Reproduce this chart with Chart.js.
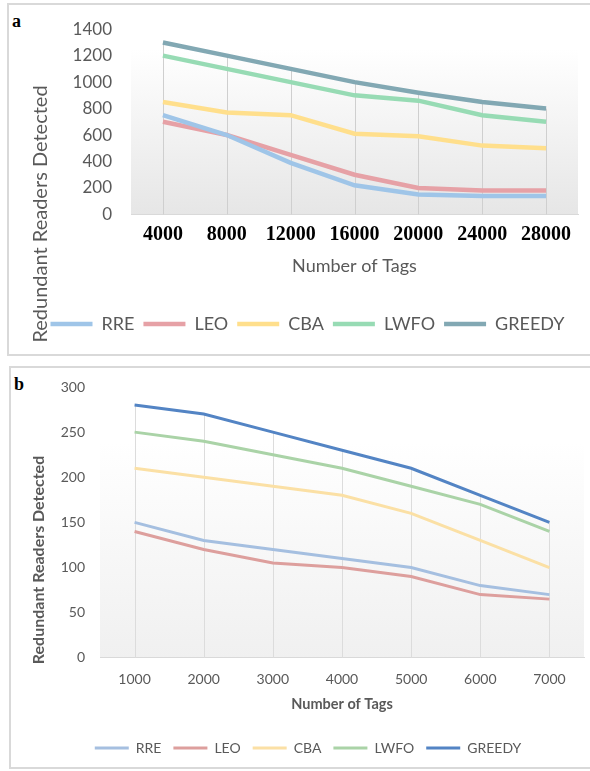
<!DOCTYPE html>
<html>
<head>
<meta charset="utf-8">
<script src="https://cdn.jsdelivr.net/npm/chart.js@4.4.0/dist/chart.umd.min.js"></script>
<style>
  body { margin: 0; background: #fff; width: 590px; height: 771px; position: relative; overflow: hidden; }
  .panel { position: absolute; border: 2px solid #d9d9d9; box-sizing: border-box; }
  #panelA { left: 7px; top: 3px; width: 600px; height: 353px; }
  #panelB { left: 9px; top: 366px; width: 600px; height: 403px; }
  .tag { position: absolute; font: bold 18px "Liberation Serif", serif; color: #000; }
  canvas { position: absolute; left: 0; }
</style>
</head>
<body>
<div class="panel" id="panelA"></div>
<div class="panel" id="panelB"></div>
<span class="tag" style="left:12px; top:11px;">a</span>
<span class="tag" style="left:14px; top:374px;">b</span>
<canvas id="chartA" width="590" height="355" style="top:0"></canvas>
<canvas id="chartB" width="590" height="411" style="top:360px"></canvas>
<script>
// series names
const seriesNames = ['RRE', 'LEO', 'CBA', 'LWFO', 'GREEDY'];

// panel a
const tagsA = ['4000', '8000', '12000', '16000', '20000', '24000', '28000'];
const rreA = [750, 600, 390, 220, 150, 140, 140];
const leoA = [700, 600, 450, 300, 200, 180, 180];
const cbaA = [850, 770, 750, 610, 590, 520, 500];
const lwfoA = [1200, 1100, 1000, 900, 860, 750, 700];
const greedyA = [1300, 1200, 1100, 1000, 920, 850, 800];

// panel b
const tagsB = ['1000', '2000', '3000', '4000', '5000', '6000', '7000'];
const rreB = [150, 130, 120, 110, 100, 80, 70];
const leoB = [140, 120, 105, 100, 90, 70, 65];
const cbaB = [210, 200, 190, 180, 160, 130, 100];
const lwfoB = [250, 240, 225, 210, 190, 170, 140];
const greedyB = [280, 270, 250, 230, 210, 180, 150];

const colorsA = ['#9fc5e8', '#e6a1a6', '#ffdf8c', '#97dbb4', '#82a8b3'];
const colorsB = ['#a5bfe0', '#dd9f9d', '#fbe0a5', '#aad3a7', '#5384c4'];

const grey = '#595959';
const sans = 'Lato, "Open Sans", sans-serif';

// gradient plot area, drop lines and the y title
const plotDecor = {
  id: 'plotDecor',
  beforeDraw(chart, args, opts) {
    const a = chart.chartArea, ctx = chart.ctx;
    const top = a.top + opts.fadeTop;
    const g = ctx.createLinearGradient(0, top, 0, a.bottom);
    g.addColorStop(0, '#ffffff');
    g.addColorStop(1, opts.bottomColor);
    ctx.save();
    ctx.fillStyle = g;
    ctx.fillRect(a.left, top, a.right - a.left, a.bottom - top);
    ctx.restore();
  },
  beforeDatasetsDraw(chart, args, opts) {
    const x = chart.scales.x, y = chart.scales.y, ctx = chart.ctx;
    ctx.save();
    ctx.strokeStyle = opts.dropColor;
    ctx.lineWidth = 1;
    chart.data.labels.forEach((l, i) => {
      const top = Math.max(...chart.data.datasets.map(d => d.data[i]));
      const px = Math.round(x.getPixelForValue(i)) + 0.5;
      ctx.beginPath();
      ctx.moveTo(px, y.getPixelForValue(top));
      ctx.lineTo(px, y.getPixelForValue(0));
      ctx.stroke();
    });
    ctx.restore();
  },
  afterDraw(chart, args, opts) {
    const ctx = chart.ctx;
    ctx.save();
    ctx.translate(opts.titleX, opts.titleY);
    ctx.rotate(-Math.PI / 2);
    ctx.font = opts.titleFont;
    ctx.fillStyle = grey;
    ctx.textAlign = 'center';
    ctx.textBaseline = 'middle';
    ctx.fillText('Redundant Readers Detected', 0, 0);
    ctx.restore();
  }
};

function makeSets(values, colors, width) {
  return values.map((v, i) => ({
    label: seriesNames[i],
    data: v,
    borderColor: colors[i],
    backgroundColor: colors[i],
    borderWidth: width,
    pointRadius: 0,
    pointStyle: 'line',
    tension: 0
  }));
}

new Chart(document.getElementById('chartA'), {
  type: 'line',
  data: {
    labels: tagsA,
    datasets: makeSets([rreA, leoA, cbaA, lwfoA, greedyA], colorsA, 4.5)
  },
  options: {
    responsive: false,
    animation: false,
    layout: { padding: { left: 37, right: 12, top: 28, bottom: 12 } },
    scales: {
      x: {
        offset: true,
        grid: { display: false, drawTicks: false },
        border: { color: '#d9d9d9' },
        ticks: {
          padding: 8, maxRotation: 0, color: '#000',
          font: { family: '"Liberation Serif", serif', size: 20, weight: 'bold' }
        },
        title: {
          display: true, text: 'Number of Tags', color: grey,
          font: { family: sans, size: 18 }, padding: { top: 1, bottom: 29 }
        }
      },
      y: {
        min: 0, max: 1400,
        grid: { display: false, drawTicks: false },
        border: { display: false },
        ticks: {
          stepSize: 200, padding: 19, color: grey, font: { family: sans, size: 17 },
          callback: v => String(v)
        },
        afterFit: s => { s.width = 94; }
      }
    },
    plugins: {
      legend: {
        position: 'bottom',
        labels: {
          usePointStyle: true, pointStyle: 'line', pointStyleWidth: 42,
          padding: 9, color: grey, font: { family: sans, size: 18 }
        }
      },
      tooltip: { enabled: false },
      plotDecor: {
        fadeTop: 20, bottomColor: '#e6e6e6', dropColor: '#cfcfcf',
        titleX: 41, titleY: 214, titleFont: '20px ' + sans
      }
    }
  },
  plugins: [plotDecor]
});

new Chart(document.getElementById('chartB'), {
  type: 'line',
  data: {
    labels: tagsB,
    datasets: makeSets([rreB, leoB, cbaB, lwfoB, greedyB], colorsB, 3)
  },
  options: {
    responsive: false,
    animation: false,
    layout: { padding: { left: 32, right: 6, top: 27, bottom: 6 } },
    scales: {
      x: {
        offset: true,
        grid: { display: false, drawTicks: false },
        border: { color: '#d9d9d9' },
        ticks: { padding: 13, maxRotation: 0, color: grey, font: { family: sans, size: 14 } },
        title: {
          display: true, text: 'Number of Tags', color: grey,
          font: { family: sans, size: 14.5, weight: 'bold' }, padding: { top: -5, bottom: 16 }
        }
      },
      y: {
        min: 0, max: 300,
        grid: { display: false, drawTicks: false },
        border: { display: false },
        ticks: { stepSize: 50, padding: 15, color: grey, font: { family: sans, size: 14 } },
        afterFit: s => { s.width = 68; }
      }
    },
    plugins: {
      legend: {
        position: 'bottom',
        labels: {
          usePointStyle: true, pointStyle: 'line', pointStyleWidth: 34,
          padding: 12, color: grey, font: { family: sans, size: 14 }
        }
      },
      tooltip: { enabled: false },
      plotDecor: {
        fadeTop: 55, bottomColor: '#f0f0f0', dropColor: '#dcdcdc',
        titleX: 39, titleY: 200, titleFont: 'bold 16px ' + sans
      }
    }
  },
  plugins: [plotDecor]
});
</script>
</body>
</html>
